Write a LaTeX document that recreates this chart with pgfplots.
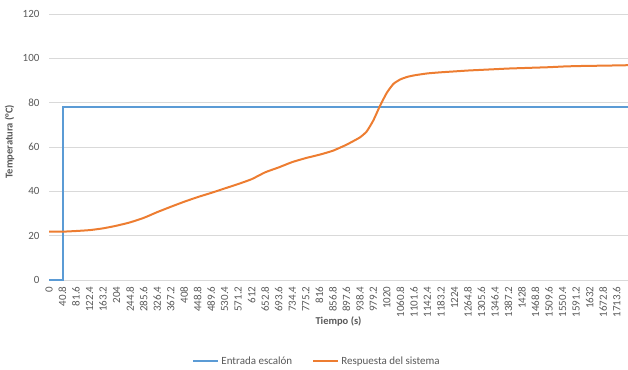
\documentclass[border=0pt]{standalone}
\usepackage{pgfplots}
\pgfplotsset{compat=1.18}
\usepackage{fontspec}
\setmainfont{Carlito}
\definecolor{cblue}{HTML}{5B9BD5}
\definecolor{corange}{HTML}{ED7D31}
\definecolor{tickgray}{HTML}{595959}
\definecolor{gridgray}{HTML}{D9D9D9}
\begin{document}
\begin{tikzpicture}
\useasboundingbox (-49pt,-89pt) rectangle (579pt,280pt);
\begin{axis}[
  scale only axis,
  width=579pt, height=266pt,
  xmin=0, xmax=1748,
  ymin=0, ymax=120,
  ytick={0,20,...,120},
  xtick={0,40.8,81.6,122.4,163.2,204,244.8,285.6,326.4,367.2,408,448.8,489.6,530.4,571.2,612,652.8,693.6,734.4,775.2,816,856.8,897.6,938.4,979.2,1020,1060.8,1101.6,1142.4,1183.2,1224,1264.8,1305.6,1346.4,1387.2,1428,1468.8,1509.6,1550.4,1591.2,1632,1672.8,1713.6},
  xticklabels={0,40.8,81.6,122.4,163.2,204,244.8,285.6,326.4,367.2,408,448.8,489.6,530.4,571.2,612,652.8,693.6,734.4,775.2,816,856.8,897.6,938.4,979.2,1020,1060.8,1101.6,1142.4,1183.2,1224,1264.8,1305.6,1346.4,1387.2,1428,1468.8,1509.6,1550.4,1591.2,1632,1672.8,1713.6},
  /pgf/number format/assume math mode=true,
  major tick length=0pt,
  axis line style={draw=none},
  ymajorgrids,
  grid style={gridgray, line width=0.8pt},
  tick label style={font=\fontsize{11}{12}\selectfont, text=tickgray},
  yticklabel style={xshift=-6pt},
  xticklabel style={rotate=90, anchor=east, yshift=-0pt, xshift=-3pt},
  xlabel={Tiempo (s)},
  ylabel={Temperatura (°C)},
  label style={font=\bfseries\fontsize{10.5}{12}\selectfont, text=tickgray},
  xlabel style={at={(axis description cs:0.5,-0.155)}, anchor=center},
  ylabel style={at={(axis description cs:-0.068,0.52)}, anchor=center, rotate=0},
  legend style={at={(axis description cs:0.463,-0.305)}, anchor=center, draw=none,
    font=\fontsize{11}{12}\selectfont, text=tickgray, legend columns=2,
    /tikz/every even column/.append style={column sep=18pt}},
  legend image code/.code={\draw[#1] (0pt,0pt) -- (25pt,0pt);},
  clip=true,
]
\addplot[cblue, line width=2pt] coordinates {
(0,0) (40.8,0) (40.8,78) (1748,78)
};
\addlegendentry{Entrada escalón}
\addplot[corange, line width=2pt, smooth, tension=0.3] coordinates {
(0,21.8) (40.8,21.8) (81.6,22.1) (122.4,22.5) (163.2,23.3) (204,24.5)
(244.8,26.0) (285.6,28.0) (326.4,30.6) (367.2,33.0) (408,35.3) (448.8,37.4)
(489.6,39.3) (530.4,41.3) (571.2,43.3) (612,45.5) (652.8,48.6) (693.6,50.8)
(734.4,53.2) (775.2,55.0) (816,56.5) (856.8,58.3) (897.6,61.0) (938.4,64.3)
(959,67.0) (979.2,72.0) (999,78.5) (1020,84.5) (1040,88.5) (1060.8,90.5)
(1081,91.6) (1101.6,92.3) (1142.4,93.2) (1183.2,93.7) (1224,94.1)
(1264.8,94.5) (1305.6,94.8) (1346.4,95.1) (1387.2,95.4) (1428,95.6)
(1468.8,95.8) (1509.6,96.0) (1550.4,96.3) (1591.2,96.5) (1632,96.6)
(1672.8,96.7) (1713.6,96.8) (1748,96.9)
};
\addlegendentry{Respuesta del sistema}
\end{axis}
\end{tikzpicture}
\end{document}
